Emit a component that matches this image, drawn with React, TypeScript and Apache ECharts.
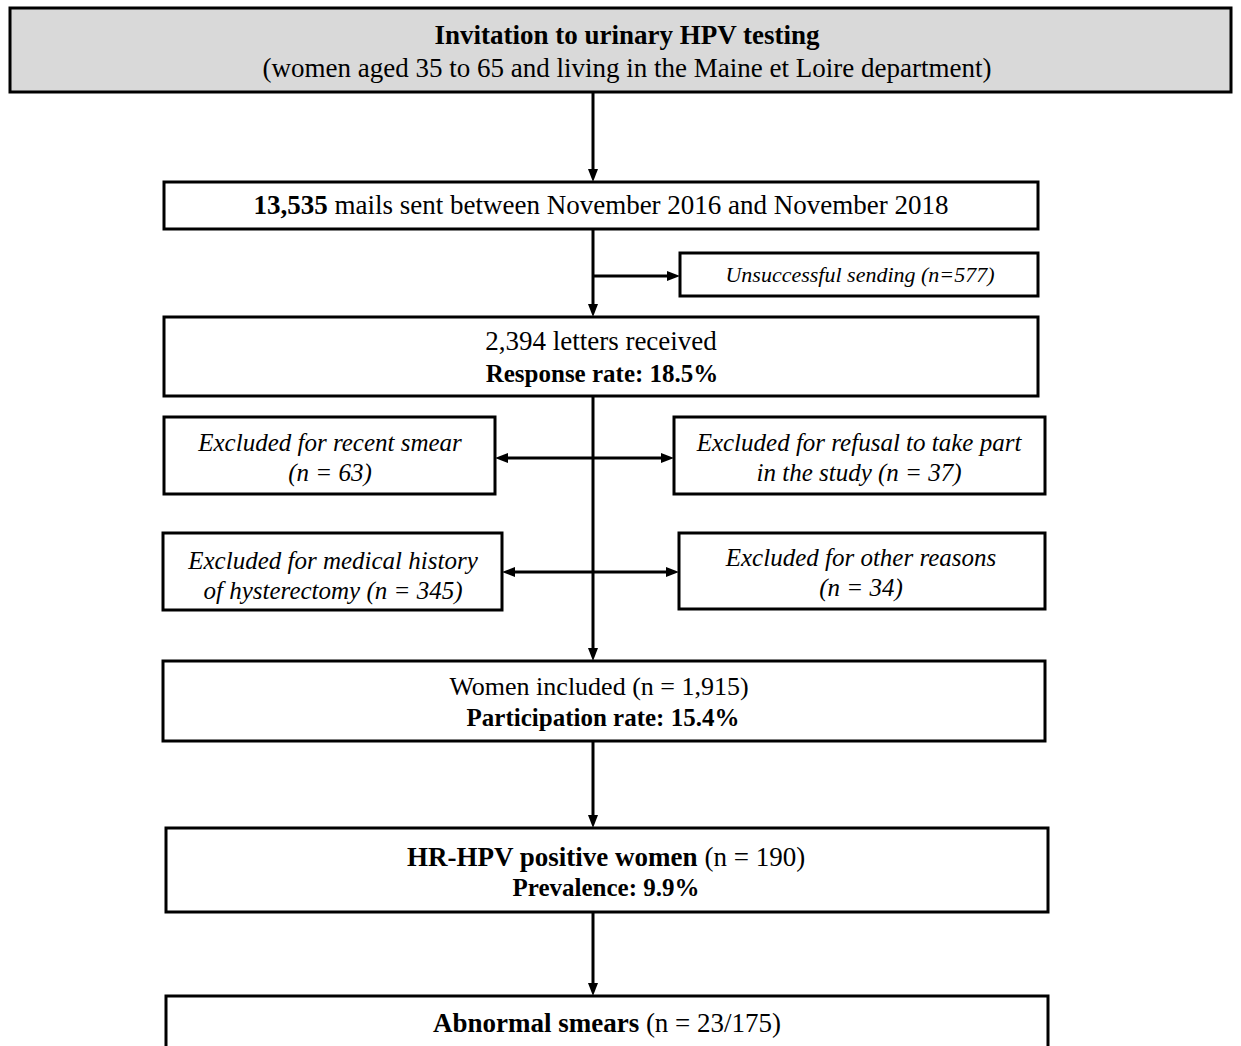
import React, { useEffect, useRef } from "react";
import * as echarts from "echarts";

const FONT = '"Liberation Serif", "Times New Roman", serif';

const headerTitle = "Invitation to urinary HPV testing";
const headerSubtitle = "(women aged 35 to 65 and living in the Maine et Loire department)";
const mailsCount = "13,535";
const mailsText = " mails sent between November 2016 and November 2018";
const unsuccessfulText = "Unsuccessful sending (n=577)";
const lettersLines = ["2,394 letters received", "Response rate: 18.5%"];
const exclusionLines = [
  ["Excluded for recent smear", "(n = 63)"],
  ["Excluded for refusal to take part", "in the study (n = 37)"],
  ["Excluded for medical history", "of hysterectomy (n = 345)"],
  ["Excluded for other reasons", "(n = 34)"],
];
const includedLines = ["Women included (n = 1,915)", "Participation rate: 15.4%"];
const positiveLines = ["HR-HPV positive women", " (n = 190)", "Prevalence: 9.9%"];
const abnormalLines = ["Abnormal smears", " (n = 23/175)"];

const LW = 3;

function rect(x: number, y: number, w: number, h: number, fill = "#fff") {
  return {
    type: "rect",
    shape: { x, y, width: w, height: h },
    style: { fill, stroke: "#000", lineWidth: LW },
  };
}
function line(x1: number, y1: number, x2: number, y2: number) {
  return {
    type: "line",
    shape: { x1, y1, x2, y2 },
    style: { stroke: "#000", lineWidth: LW },
  };
}
function arrowDown(x: number, y: number) {
  return {
    type: "polygon",
    shape: { points: [[x - 5, y - 13], [x + 5, y - 13], [x, y]] },
    style: { fill: "#000" },
  };
}
function arrowRight(x: number, y: number) {
  return {
    type: "polygon",
    shape: { points: [[x - 13, y - 5], [x - 13, y + 5], [x, y]] },
    style: { fill: "#000" },
  };
}
function arrowLeft(x: number, y: number) {
  return {
    type: "polygon",
    shape: { points: [[x + 13, y - 5], [x + 13, y + 5], [x, y]] },
    style: { fill: "#000" },
  };
}
function text(
  x: number,
  y: number,
  t: string,
  size: number,
  weight: string = "normal",
  fontStyle: string = "normal"
) {
  return {
    type: "text",
    x,
    y,
    style: {
      text: t,
      fontSize: size,
      fontWeight: weight,
      fontStyle,
      fontFamily: FONT,
      fill: "#000",
      align: "center",
      verticalAlign: "middle",
      textAlign: "center",
      textVerticalAlign: "middle",
    },
  };
}
function richText(x: number, y: number, bold: string, normal: string, size: number) {
  return {
    type: "text",
    x,
    y,
    style: {
      text: `{b|${bold}}{n|${normal}}`,
      fontSize: size,
      fontFamily: FONT,
      fill: "#000",
      align: "center",
      verticalAlign: "middle",
      textAlign: "center",
      textVerticalAlign: "middle",
      rich: {
        b: { fontSize: size, fontFamily: FONT, fontWeight: "bold", fill: "#000" },
        n: { fontSize: size, fontFamily: FONT, fontWeight: "normal", fill: "#000" },
      },
    },
  };
}

export default function App() {
  const ref = useRef<HTMLDivElement>(null);
  useEffect(() => {
    if (!ref.current) return;
    const chart = echarts.init(ref.current, null, { renderer: "svg" });
    const cx = 593;
    const elements: any[] = [
      // header
      rect(10, 8, 1221, 84, "#d9d9d9"),
      text(627, 35, headerTitle, 27, "bold"),
      text(627, 68, headerSubtitle, 27),
      line(cx, 92, cx, 170),
      arrowDown(cx, 182),
      // mails
      rect(164, 182, 874, 47),
      richText(601, 205, mailsCount, mailsText, 27),
      line(cx, 229, cx, 305),
      arrowDown(cx, 317),
      line(cx, 276, 668, 276),
      arrowRight(680, 276),
      rect(680, 253, 358, 43),
      text(860, 274, unsuccessfulText, 22, "normal", "italic"),
      // letters
      rect(164, 317, 874, 79),
      text(601, 341, lettersLines[0], 27),
      text(602, 373, lettersLines[1], 25, "bold"),
      line(cx, 396, cx, 650),
      arrowDown(cx, 661),
      // exclusions
      rect(164, 417, 331, 77),
      text(330, 442, exclusionLines[0][0], 25, "normal", "italic"),
      text(330, 472, exclusionLines[0][1], 25, "normal", "italic"),
      rect(674, 417, 371, 77),
      text(859, 442, exclusionLines[1][0], 25, "normal", "italic"),
      text(859, 472, exclusionLines[1][1], 25, "normal", "italic"),
      line(508, 458, 661, 458),
      arrowLeft(495, 458),
      arrowRight(674, 458),
      rect(163, 533, 339, 77),
      text(333, 560, exclusionLines[2][0], 25, "normal", "italic"),
      text(333, 590, exclusionLines[2][1], 25, "normal", "italic"),
      rect(679, 533, 366, 76),
      text(861, 557, exclusionLines[3][0], 25, "normal", "italic"),
      text(861, 587, exclusionLines[3][1], 25, "normal", "italic"),
      line(515, 572, 666, 572),
      arrowLeft(502, 572),
      arrowRight(679, 572),
      // included
      rect(163, 661, 882, 80),
      text(599, 686, includedLines[0], 26),
      text(603, 717, includedLines[1], 25, "bold"),
      line(cx, 741, cx, 816),
      arrowDown(cx, 828),
      // positive
      rect(166, 828, 882, 84),
      richText(606, 857, positiveLines[0], positiveLines[1], 27),
      text(606, 887, positiveLines[2], 25, "bold"),
      line(cx, 912, cx, 984),
      arrowDown(cx, 996),
      // abnormal
      rect(166, 996, 882, 90),
      richText(607, 1023, abnormalLines[0], abnormalLines[1], 27),
    ];
    chart.setOption({
      animation: false,
      backgroundColor: "#fff",
      graphic: { elements },
    });
    return () => chart.dispose();
  }, []);
  return (
    <div
      ref={ref}
      style={{ position: "absolute", left: 0, top: 0, width: 1241, height: 1046 }}
    />
  );
}
